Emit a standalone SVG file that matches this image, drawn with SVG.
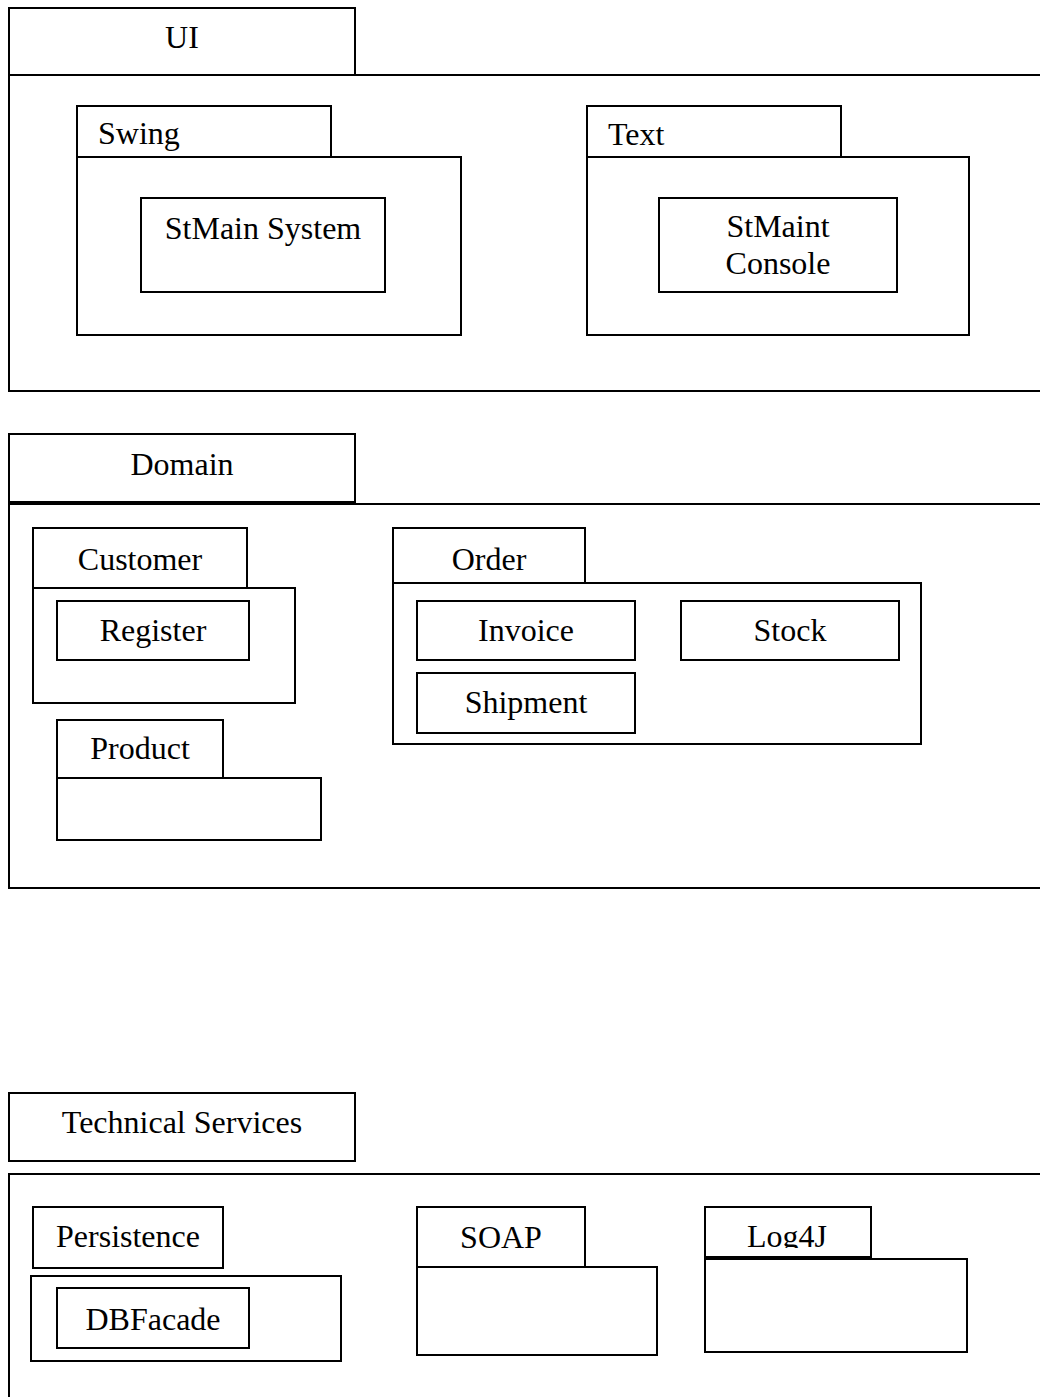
<svg xmlns="http://www.w3.org/2000/svg" width="1040" height="1397" viewBox="0 0 1040 1397">
<style>
  .b { fill: #ffffff; stroke: #000000; stroke-width: 2; }
  .t { font-family: "Liberation Serif", "Times New Roman", serif; font-size: 32px; fill: #000000; }
  .c { text-anchor: middle; }
</style>
<defs>
  <clipPath id="clipLog">
    <rect x="700" y="1200" width="180" height="48"/>
  </clipPath>
</defs>
<rect x="0" y="0" width="1040" height="1397" fill="#ffffff"/>

<g id="pkg-ui">
  <rect class="b" x="9" y="75" width="1045" height="316"/>
  <rect class="b" x="9" y="8" width="346" height="67"/>
  <text class="t c" x="182" y="48">UI</text>
</g>
<g id="pkg-swing">
  <rect class="b" x="77" y="157" width="384" height="178"/>
  <rect class="b" x="77" y="106" width="254" height="51"/>
  <text class="t" x="98" y="144">Swing</text>
</g>
<g id="node-stmain-system">
  <rect class="b" x="141" y="198" width="244" height="94"/>
  <text class="t c" x="263" y="239">StMain System</text>
</g>
<g id="pkg-text">
  <rect class="b" x="587" y="157" width="382" height="178"/>
  <rect class="b" x="587" y="106" width="254" height="51"/>
  <text class="t" x="608" y="145">Text</text>
</g>
<g id="node-stmaint-console">
  <rect class="b" x="659" y="198" width="238" height="94"/>
  <text class="t c" x="778" y="237">StMaint</text>
  <text class="t c" x="778" y="274">Console</text>
</g>

<g id="pkg-domain">
  <rect class="b" x="9" y="504" width="1045" height="384"/>
  <rect class="b" x="9" y="434" width="346" height="68"/>
  <text class="t c" x="182" y="475">Domain</text>
</g>
<g id="pkg-customer">
  <rect class="b" x="33" y="588" width="262" height="115"/>
  <rect class="b" x="33" y="528" width="214" height="60"/>
  <text class="t c" x="140" y="570">Customer</text>
</g>
<g id="node-register">
  <rect class="b" x="57" y="601" width="192" height="59"/>
  <text class="t c" x="153" y="641">Register</text>
</g>
<g id="pkg-product">
  <rect class="b" x="57" y="778" width="264" height="62"/>
  <rect class="b" x="57" y="720" width="166" height="58"/>
  <text class="t c" x="140" y="759">Product</text>
</g>
<g id="pkg-order">
  <rect class="b" x="393" y="583" width="528" height="161"/>
  <rect class="b" x="393" y="528" width="192" height="55"/>
  <text class="t c" x="489" y="570">Order</text>
</g>
<g id="node-invoice">
  <rect class="b" x="417" y="601" width="218" height="59"/>
  <text class="t c" x="526" y="641">Invoice</text>
</g>
<g id="node-stock">
  <rect class="b" x="681" y="601" width="218" height="59"/>
  <text class="t c" x="790" y="641">Stock</text>
</g>
<g id="node-shipment">
  <rect class="b" x="417" y="673" width="218" height="60"/>
  <text class="t c" x="526" y="713">Shipment</text>
</g>

<g id="pkg-technical-services">
  <rect class="b" x="9" y="1174" width="1045" height="240"/>
  <rect class="b" x="9" y="1093" width="346" height="68"/>
  <text class="t c" x="182" y="1133">Technical Services</text>
</g>
<g id="pkg-persistence">
  <rect class="b" x="31" y="1276" width="310" height="85"/>
  <rect class="b" x="33" y="1207" width="190" height="61"/>
  <text class="t c" x="128" y="1247">Persistence</text>
</g>
<g id="node-dbfacade">
  <rect class="b" x="57" y="1288" width="192" height="60"/>
  <text class="t c" x="153" y="1330">DBFacade</text>
</g>
<g id="pkg-soap">
  <rect class="b" x="417" y="1267" width="240" height="88"/>
  <rect class="b" x="417" y="1207" width="168" height="60"/>
  <text class="t c" x="501" y="1248">SOAP</text>
</g>
<g id="pkg-log4j">
  <rect class="b" x="705" y="1259" width="262" height="93"/>
  <rect class="b" x="705" y="1207" width="166" height="50"/>
  <text class="t c" x="787" y="1247" clip-path="url(#clipLog)">Log4J</text>
</g>

<g id="connectors"></g>
</svg>
